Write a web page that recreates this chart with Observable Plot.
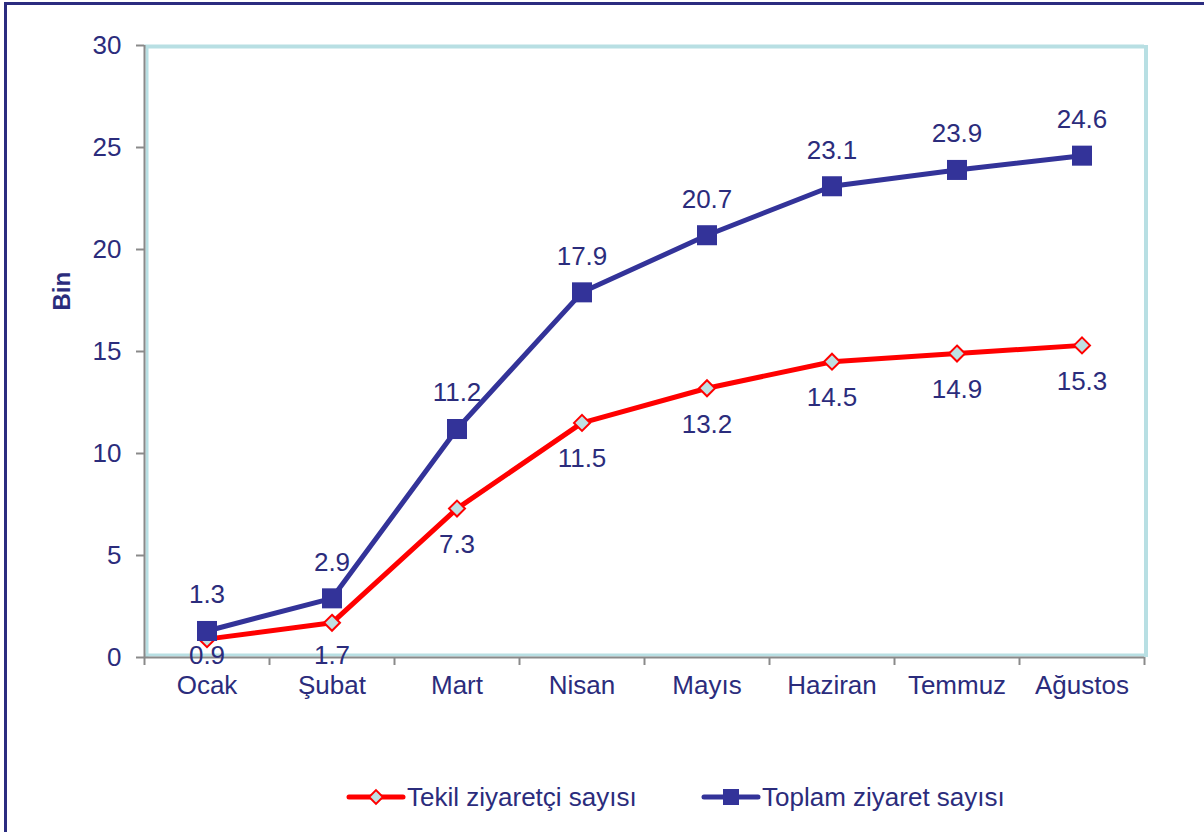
<!DOCTYPE html>
<html>
<head>
<meta charset="utf-8">
<script src="https://cdn.jsdelivr.net/npm/d3@7"></script>
<script src="https://cdn.jsdelivr.net/npm/@observablehq/plot@0.6"></script>
<style>
  html, body { margin: 0; padding: 0; background: #fff; }
  #wrap { position: relative; width: 1204px; height: 832px; overflow: hidden; font-family: "Liberation Sans", Arial, sans-serif; }
  .bt { position: absolute; left: 4px; top: 2px; width: 1200px; height: 3px; background: #2b2c80; }
  .bl { position: absolute; left: 4px; top: 2px; width: 3px; height: 830px; background: #2b2c80; }
  #chart { position: absolute; left: 0; top: 0; }
  #legend { position: absolute; left: 0; top: 760px; width: 1204px; height: 72px; }
  .lt { position: absolute; font-size: 26px; line-height: 26px; color: #2b2c7c; white-space: nowrap; }
</style>
</head>
<body>
<div id="wrap">
  <div id="chart"></div>
  <div class="bt"></div>
  <div class="bl"></div>
  <div id="legend"></div>
</div>
<script>
const months = ["Ocak", "Şubat", "Mart", "Nisan", "Mayıs", "Haziran", "Temmuz", "Ağustos"];
const tekil = [0.9, 1.7, 7.3, 11.5, 13.2, 14.5, 14.9, 15.3];
const toplam = [1.3, 2.9, 11.2, 17.9, 20.7, 23.1, 23.9, 24.6];
const yTicks = [0, 5, 10, 15, 20, 25, 30];
const seriesNames = ["Tekil ziyaretçi sayısı", "Toplam ziyaret sayısı"];

const textColor = "#2b2c7c";
const navy = "#333399";
const red = "#ff0000";
const teal = "#b8dfe3";
const diamondFill = "#bfe0e2";
const gray = "#8a8a8a";

const data = months.map((m, i) => ({i, m, tekil: tekil[i], toplam: toplam[i]}));
const boundaries = d3.range(months.length + 1).map(k => k - 0.5);

const H = 760, mTop = 45, mBottom = 103;
const ppu = (H - mTop - mBottom) / 30;

const chart = Plot.plot({
  width: 1204,
  height: H,
  marginLeft: 144,
  marginRight: 60,
  marginTop: mTop,
  marginBottom: mBottom,
  style: {fontFamily: '"Liberation Sans", Arial, sans-serif', background: "transparent", overflow: "visible"},
  x: {type: "linear", domain: [-0.5, months.length - 0.5], axis: null},
  y: {domain: [0, 30], axis: null},
  marks: [
    Plot.ruleY([30], {stroke: teal, strokeWidth: 4, dy: 1}),
    Plot.ruleX([months.length - 0.5], {stroke: teal, strokeWidth: 4, dx: 1.5}),
    Plot.ruleX([-0.5], {stroke: teal, strokeWidth: 3, dx: 2.5}),
    Plot.ruleY([0], {stroke: teal, strokeWidth: 3, dy: -2.5}),
    Plot.ruleX([-0.5], {stroke: gray, strokeWidth: 2}),
    Plot.ruleY([0], {stroke: gray, strokeWidth: 2}),
    Plot.axisY({ticks: yTicks, tickSize: 8, tickPadding: 15, fontSize: 26, stroke: gray, strokeWidth: 2, fill: textColor, tickFormat: d => String(d), label: null}),
    Plot.axisX({ticks: boundaries, tickSize: 8, tickFormat: () => "", stroke: gray, strokeWidth: 2, label: null}),
    Plot.axisX({ticks: d3.range(months.length), tickSize: 0, tickPadding: 18, tickFormat: i => months[i], fontSize: 26, fill: textColor, label: null}),
    Plot.text(["Bin"], {frameAnchor: "left", dx: -82, dy: -41, rotate: -90, fontSize: 24, fontWeight: "bold", fill: textColor}),
    Plot.line(data, {x: "i", y: "tekil", stroke: red, strokeWidth: 5}),
    Plot.dot(data, {x: "i", y: "tekil", symbol: "diamond2", r: 7.2, fill: diamondFill, stroke: red, strokeWidth: 2}),
    Plot.line(data, {x: "i", y: "toplam", stroke: navy, strokeWidth: 5}),
    Plot.dot(data, {x: "i", y: "toplam", symbol: "square", r: 11.3, fill: navy, stroke: navy, strokeWidth: 0}),
    Plot.text(data, {x: "i", y: "toplam", text: d => d.toplam.toFixed(1), dy: -36, fontSize: 26, fill: textColor}),
    Plot.text(data, {x: "i", y: d => Math.max(d.tekil - 36 / ppu, 0.08), text: d => d.tekil.toFixed(1), fontSize: 26, fill: textColor})
  ]
});
document.getElementById("chart").appendChild(chart);

// Legend
const legend = document.getElementById("legend");
function addItem(x0, name, kind) {
  const color = kind === "diamond" ? red : navy;
  const svg = d3.create("svg").attr("width", 60).attr("height", 24)
    .style("position", "absolute").style("left", x0 + "px").style("top", (37 - 12) + "px");
  svg.append("line").attr("x1", 3).attr("x2", 57).attr("y1", 12).attr("y2", 12)
    .attr("stroke", color).attr("stroke-width", 5).attr("stroke-linecap", "round");
  if (kind === "diamond") {
    svg.append("path").attr("d", d3.symbol(d3.symbolDiamond2, 120)()).attr("transform", "translate(30,12)")
      .attr("fill", diamondFill).attr("stroke", red).attr("stroke-width", 2);
  } else {
    svg.append("rect").attr("x", 22).attr("y", 4).attr("width", 16).attr("height", 16).attr("fill", navy);
  }
  legend.appendChild(svg.node());
  const t = document.createElement("div");
  t.className = "lt";
  t.style.left = (x0 + 61) + "px";
  t.style.top = (37 - 13) + "px";
  t.textContent = name;
  legend.appendChild(t);
}
addItem(346, seriesNames[0], "diamond");
addItem(701, seriesNames[1], "square");
</script>
</body>
</html>
